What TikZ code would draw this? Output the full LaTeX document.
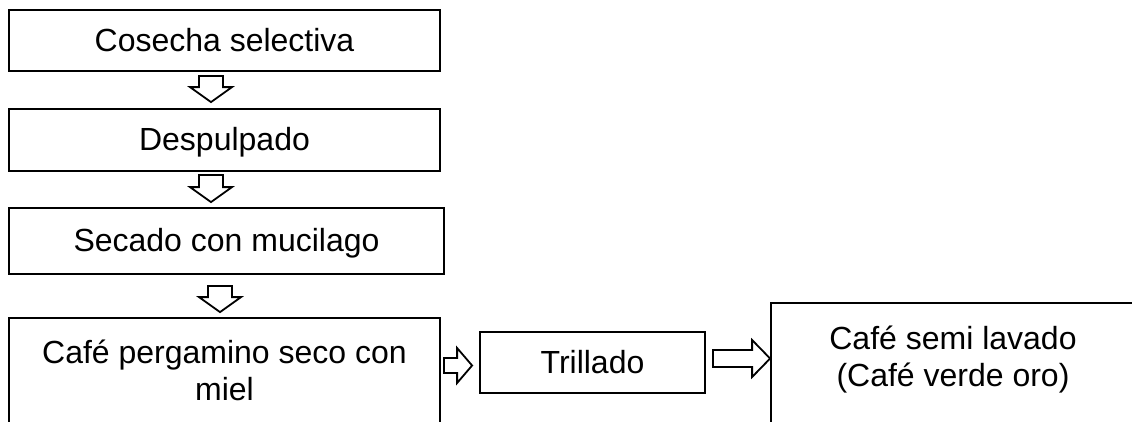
\documentclass[tikz,border=0pt]{standalone}
\usepackage{fontspec}
\setmainfont{Liberation Sans}
\usetikzlibrary{calc}
% down block arrow: #1 upper node, #2 lower node, #3 x-coordinate, #4 top gap, #5 bottom gap
\newcommand\blkdown[5]{%
  \draw[blk] let \p1=(#1.south), \p2=(#2.north), \p3=(#3) in
    (\x3-12pt,\y1-#4) -- (\x3+12pt,\y1-#4) -- (\x3+12pt,\y2+#5+15pt) --
    (\x3+21pt,\y2+#5+15pt) -- (\x3,\y2+#5) -- (\x3-21pt,\y2+#5+15pt) --
    (\x3-12pt,\y2+#5+15pt) -- cycle;}
% right block arrow: #1 left node, #2 right node, #3 y-coordinate, #4 left gap, #5 right gap,
% #6 shaft half width, #7 head half width, #8 head length
\newcommand\blkright[8]{%
  \draw[blk] let \p1=(#1.east), \p2=(#2.west), \p3=(#3) in
    (\x1+#4,\y3+#6) -- (\x2-#5-#8,\y3+#6) -- (\x2-#5-#8,\y3+#7) --
    (\x2-#5,\y3) -- (\x2-#5-#8,\y3-#7) -- (\x2-#5-#8,\y3-#6) --
    (\x1+#4,\y3-#6) -- cycle;}
\begin{document}
\begin{tikzpicture}[x=1pt,y=-1pt,
  box/.style={draw, line width=1.8pt, rectangle, inner sep=0pt,
    text height=21pt, text depth=0pt,
    font=\fontsize{32}{37}\selectfont},
  txt/.style={font=\fontsize{32}{37}\selectfont, anchor=base, inner sep=0pt},
  blk/.style={draw, line width=1.8pt, fill=white, line join=miter}]
\useasboundingbox (0,0) rectangle (1132,421);
\clip (0,0) rectangle (1132,421);

\node[box, minimum width=431pt, minimum height=61pt] (b1) at (224.5,40.5) {Cosecha selectiva};
\node[box, minimum width=431pt, minimum height=62pt] (b2) at (224.5,140) {Despulpado};
\node[box, minimum width=435pt, minimum height=66pt] (b3) at (226.5,241) {Secado con mucilago};
\node[box, minimum width=431pt, minimum height=142pt] (b4) at (224.5,389) {};
\node[box, minimum width=225pt, minimum height=61pt] (b5) at (592.5,362.5) {Trillado};
\node[box, minimum width=364pt, minimum height=157pt] (b6) at (953,381.5) {};

\node[txt] (t4a) at (224.5,363) {Café pergamino seco con};
\node[txt] (t4b) at (224.5,400) {miel};
\node[txt] (t6a) at (953,349) {Café semi lavado};
\node[txt] (t6b) at (953,386) {(Café verde oro)};

\coordinate (x1) at (211,0);
\coordinate (x2) at (211,0);
\coordinate (x3) at (220,0);
\coordinate (y4) at (0,365.5);
\coordinate (y5) at (0,358.5);

\blkdown{b1}{b2}{x1}{4pt}{6pt}
\blkdown{b2}{b3}{x2}{3pt}{5pt}
\blkdown{b3}{b4}{x3}{11pt}{5pt}
\blkright{b4}{b5}{y4}{3pt}{7pt}{7.5pt}{17.5pt}{15pt}
\blkright{b5}{b6}{y5}{7pt}{0pt}{8.5pt}{18.5pt}{18pt}
\end{tikzpicture}
\end{document}
